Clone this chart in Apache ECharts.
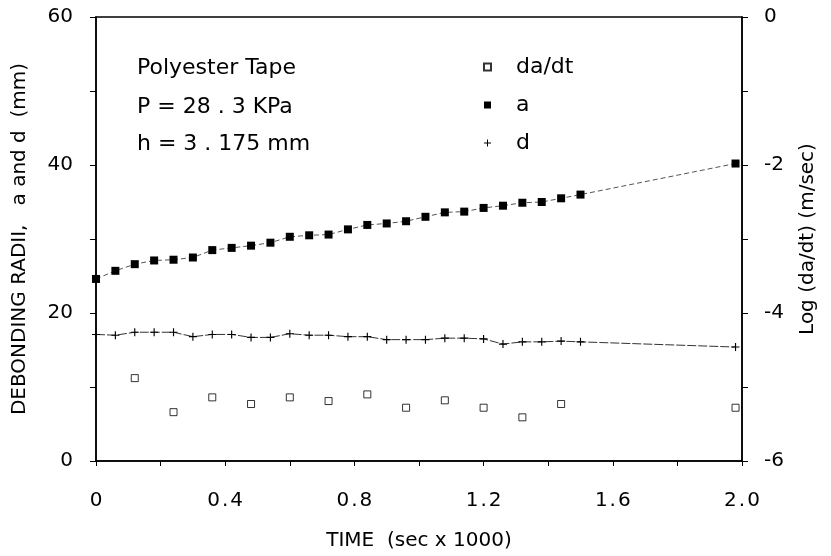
<!DOCTYPE html>
<html>
<head>
<meta charset="utf-8">
<script src="https://cdn.jsdelivr.net/npm/echarts@6/dist/echarts.min.js"></script>
<style>
  html, body { margin: 0; padding: 0; background: #fff; }
  #chart { width: 831px; height: 556px; }
</style>
</head>
<body>
<div id="chart"></div>
<script>
// time (sec x 1000) for the radius readings
const timeRadii = [0, 0.06, 0.12, 0.18, 0.24, 0.30, 0.36, 0.42, 0.48, 0.54, 0.60, 0.66, 0.72,
  0.78, 0.84, 0.90, 0.96, 1.02, 1.08, 1.14, 1.20, 1.26, 1.32, 1.38, 1.44, 1.50, 1.98];
// debonding radius a (mm)
const radiusA = [24.6, 25.7, 26.6, 27.1, 27.2, 27.5, 28.5, 28.8, 29.1, 29.5, 30.3, 30.5, 30.6,
  31.3, 31.9, 32.1, 32.4, 33.0, 33.6, 33.7, 34.2, 34.5, 34.9, 35.0, 35.5, 36.0, 40.2];
// debonding radius d (mm)
const radiusD = [17.1, 17.0, 17.4, 17.4, 17.4, 16.8, 17.1, 17.1, 16.7, 16.7, 17.2, 17.0, 17.0,
  16.8, 16.8, 16.4, 16.4, 16.4, 16.6, 16.6, 16.5, 15.8, 16.1, 16.1, 16.2, 16.1, 15.4];
// log(da/dt) readings
const timeRate = [0.12, 0.24, 0.36, 0.48, 0.60, 0.72, 0.84, 0.96, 1.08, 1.20, 1.32, 1.44, 1.98];
const logRate = [-4.88, -5.34, -5.14, -5.23, -5.14, -5.19, -5.10, -5.28, -5.18, -5.28, -5.41, -5.23, -5.28];

const font = "DejaVu Sans";
const plusPath = "path://M3,0H4V3H7V4H4V7H3V4H0V3H3Z";

const pairs = (xs, ys) => xs.map((x, i) => [x, ys[i]]);

const chart = echarts.init(document.getElementById("chart"));

chart.setOption({
  animation: false,
  backgroundColor: "#fff",
  grid: {
    left: 96, right: 89, top: 17, bottom: 92,
    show: true, borderColor: "#000", borderWidth: 1.5
  },
  legend: {
    orient: "vertical",
    left: 478, top: 51,
    itemWidth: 7, itemHeight: 7, itemGap: 16,
    textStyle: { fontFamily: font, fontSize: 22, color: "#000", padding: [0, 0, 0, 20] },
    data: [
      { name: "da/dt", icon: "rect" },
      { name: "a", icon: "rect" },
      { name: "d", icon: plusPath }
    ]
  },
  graphic: [
    { type: "text", left: 137, top: 57, style: { text: "Polyester Tape", font: "22px DejaVu Sans", fill: "#000" } },
    { type: "text", left: 137, top: 96, style: { text: "P = 28 . 3 KPa", font: "22px DejaVu Sans", fill: "#000" } },
    { type: "text", left: 137, top: 133, style: { text: "h = 3 . 175 mm", font: "22px DejaVu Sans", fill: "#000" } }
  ],
  xAxis: {
    type: "value", min: 0, max: 2, interval: 0.4,
    name: "TIME  (sec x 1000)", nameLocation: "middle", nameGap: 70,
    nameTextStyle: { fontFamily: font, fontSize: 20, color: "#000" },
    axisLine: { show: true, lineStyle: { color: "#000", width: 1.5 } },
    axisTick: { show: true, inside: false, length: 5, lineStyle: { color: "#000" } },
    minorTick: { show: true, splitNumber: 2, length: 5, lineStyle: { color: "#000" } },
    splitLine: { show: false },
    axisLabel: {
      fontFamily: font, fontSize: 20, color: "#000", margin: 30,
      formatter: v => v === 0 ? "0" : v.toFixed(1).replace(".", "\u200a.\u200a")
    }
  },
  yAxis: [
    {
      type: "value", min: 0, max: 60, interval: 20, position: "left",
      name: "DEBONDING RADII,   a and d  (mm)", nameLocation: "middle", nameGap: 66, nameRotate: 90,
      nameTextStyle: { fontFamily: font, fontSize: 20, color: "#000" },
      axisLine: { show: true, lineStyle: { color: "#000", width: 1.5 } },
      axisTick: { show: true, inside: false, length: 6, lineStyle: { color: "#000" } },
      minorTick: { show: true, splitNumber: 2, length: 6, lineStyle: { color: "#000" } },
      splitLine: { show: false },
      axisLabel: { fontFamily: font, fontSize: 20, color: "#000", margin: 23, padding: [4, 0, 0, 0] }
    },
    {
      type: "value", min: -6, max: 0, interval: 2, position: "right",
      name: "Log (da/dt) (m/sec)", nameLocation: "middle", nameGap: 56, nameRotate: 90,
      nameTextStyle: { fontFamily: font, fontSize: 20, color: "#000" },
      axisLine: { show: true, lineStyle: { color: "#000", width: 1.5 } },
      axisTick: { show: true, inside: false, length: 6, lineStyle: { color: "#000" } },
      minorTick: { show: true, splitNumber: 2, length: 6, lineStyle: { color: "#000" } },
      splitLine: { show: false },
      axisLabel: { fontFamily: font, fontSize: 20, color: "#000", margin: 22, padding: [4, 0, 0, 0] }
    }
  ],
  series: [
    {
      name: "da/dt", type: "scatter", yAxisIndex: 1,
      symbol: "rect", symbolSize: 7,
      itemStyle: { color: "#fff", borderColor: "#000", borderWidth: 1 },
      data: pairs(timeRate, logRate)
    },
    {
      name: "a", type: "line", yAxisIndex: 0,
      symbol: "rect", symbolSize: 8, showAllSymbol: true,
      itemStyle: { color: "#000" },
      lineStyle: { color: "#555", width: 1, type: [5, 3] },
      data: pairs(timeRadii, radiusA)
    },
    {
      name: "d", type: "line", yAxisIndex: 0,
      symbol: plusPath, symbolSize: 8, showAllSymbol: true,
      itemStyle: { color: "#000" },
      lineStyle: { color: "#333", width: 1, type: [9, 2] },
      data: pairs(timeRadii, radiusD)
    }
  ]
});
</script>
</body>
</html>
